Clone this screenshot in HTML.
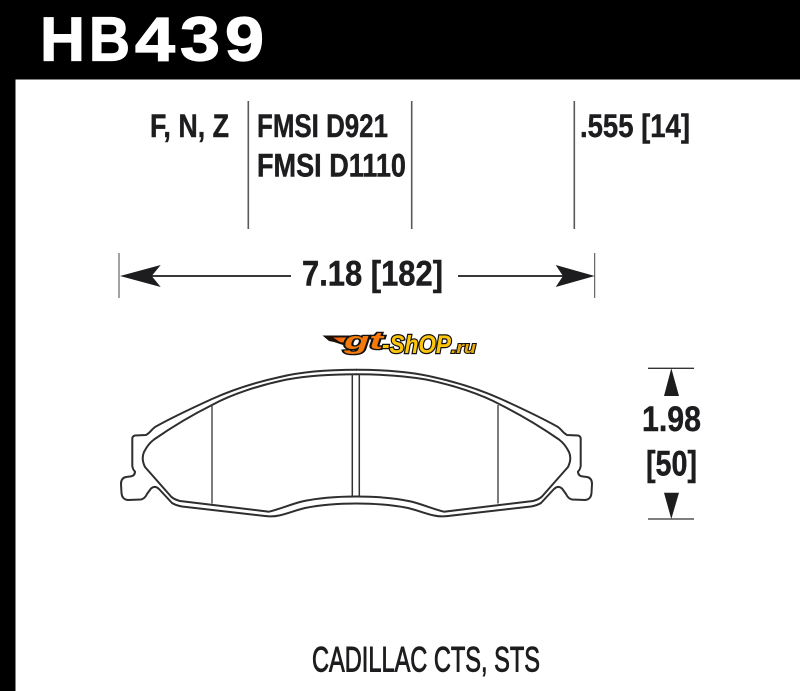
<!DOCTYPE html>
<html><head><meta charset="utf-8"><style>html,body{margin:0;padding:0;background:#fff}svg{display:block}text{font-family:"Liberation Sans",sans-serif;font-weight:bold;fill:#1d1d1f}.b{stroke:#1d1d1f;stroke-width:.45px}.h{fill:#fff;stroke:#fff;stroke-width:1.2px;font-size:62px}</style></head><body>
<svg width="800" height="691" viewBox="0 0 800 691" xmlns="http://www.w3.org/2000/svg">
<defs>
<linearGradient id="o" x1="0" y1="0" x2="1" y2="0"><stop offset="0" stop-color="#f04e10"/><stop offset="1" stop-color="#ff9a0a"/></linearGradient>
<g id="half" fill="none" stroke="#2e2e2e" stroke-width="2" stroke-linejoin="round" stroke-linecap="round">
<path d="M356.500 369.800C335 369.800 305 371 280 377C255 382.500 232 390 212 399C190 409 172 417.500 155 427C151 430 150 433 146 435L135 435.500Q132.300 436 132.300 439L132.300 466Q133 470 135 471.500Q135 476 130 476.500L126 477Q121 478 121 484L121.500 493Q122 499.500 128 500L141 499.500Q145 498.500 147 494L151 488.500Q155 485 159 489L172 503Q176 505.500 182 506.500L265 516Q272 517 279 515.500C290 513 296 510 305 508C320 505 338 503.500 356.500 503.500"/>
<path d="M356.500 374.300C335 374.300 310 375.500 287 379.500C260 385 232 394 212 405C190 416 172 427 154 439.500Q148 444 144 452Q141 459 145 467L171 496.500Q174 499.500 180 501L269 511.700C280 509 290 504.500 302 501.500C320 497.500 338 496.500 356.500 496.500"/>
</g>
</defs>
<rect x="0" y="0" width="800" height="79.500" fill="#000"/>
<rect x="0" y="0" width="15.500" height="691" fill="#000"/>
<text class="h" x="40" y="60.500" textLength="45" lengthAdjust="spacingAndGlyphs">H</text>
<text class="h" x="89" y="60.500" textLength="41" lengthAdjust="spacingAndGlyphs">B</text>
<text class="h" x="135" y="60.500" textLength="40" lengthAdjust="spacingAndGlyphs">4</text>
<text class="h" x="180" y="60.500" textLength="40" lengthAdjust="spacingAndGlyphs">3</text>
<text class="h" x="225" y="60.500" textLength="39" lengthAdjust="spacingAndGlyphs">9</text>

<g stroke="#58585a" stroke-width="1.600"><path d="M248.300 101V229M411.700 101V229M574.300 101V229"/></g>
<text class="b" x="150" y="137" font-size="32.500" textLength="79" lengthAdjust="spacingAndGlyphs">F, N, Z</text>
<text class="b" x="257" y="137" font-size="32.500" textLength="131" lengthAdjust="spacingAndGlyphs">FMSI D921</text>
<text class="b" x="257" y="176.700" font-size="32.500" textLength="149" lengthAdjust="spacingAndGlyphs">FMSI D1110</text>
<text class="b" x="580" y="137" font-size="32.500" textLength="110" lengthAdjust="spacingAndGlyphs">.555 [14]</text>

<g stroke="#444" stroke-width="1"><path d="M119 253V298M594.700 253V298"/></g>
<path d="M125 276H291M458 276H590" stroke="#1d1d1f" stroke-width="1.700"/>
<path d="M120 276L160.700 265L151.700 276L160.700 287ZM594.700 276L555.700 265L563 276L555.700 287Z" fill="#1d1d1f"/>
<text class="b" x="302" y="285.700" font-size="35.500" textLength="141" lengthAdjust="spacingAndGlyphs">7.18 [182]</text>

<use href="#half"/>
<use href="#half" transform="translate(713 0) scale(-1 1)"/>
<g stroke="#444" stroke-width="1.400"><path d="M212 405V503.500M498 405V503.500"/></g>
<g stroke="#333" stroke-width="1.500"><path d="M352.300 374.400V497M359.300 374.400V497"/></g>

<path d="M648 368.300H694M648 519H694" stroke="#333" stroke-width="1.300"/>
<path d="M671.300 368.300L679 396H664ZM671.300 519L679 492.700H664Z" fill="#1d1d1f"/>
<text class="b" x="642" y="431" font-size="35.500" textLength="59" lengthAdjust="spacingAndGlyphs">1.98</text>
<text class="b" x="646" y="475.700" font-size="35.500" textLength="51" lengthAdjust="spacingAndGlyphs">[50]</text>

<text x="312" y="671.700" font-size="35" textLength="228" lengthAdjust="spacingAndGlyphs" style="font-weight:normal;stroke:#1d1d1f;stroke-width:.9px">CADILLAC CTS, STS</text>

<path d="M322.500 335.500H354L346 343L343 345L334 342L329 341Z" fill="#1a1008"/>
<path d="M333 337.500H352L346 343L340 342Z" fill="url(#o)"/>
<text x="344" y="349" font-size="24" textLength="39" lengthAdjust="spacingAndGlyphs" style="font-style:italic;fill:#f47a0c;stroke:#111;stroke-width:2.600px;paint-order:stroke">gt</text>
<text x="382" y="353" font-size="25" textLength="69" lengthAdjust="spacingAndGlyphs" style="font-style:italic;fill:#ffc60b;stroke:#111;stroke-width:2.600px;paint-order:stroke">-ShOP</text>
<text x="451" y="353" font-size="17" textLength="25" lengthAdjust="spacingAndGlyphs" style="font-style:italic;fill:#e8a90c;stroke:#111;stroke-width:2px;paint-order:stroke">.ru</text>
</svg>
</body></html>
